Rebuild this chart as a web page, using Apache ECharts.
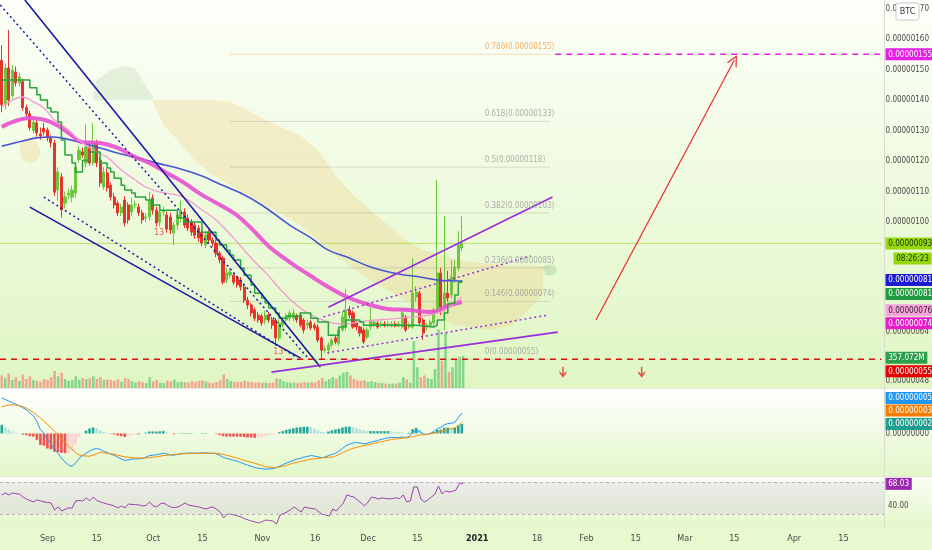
<!DOCTYPE html>
<html><head><meta charset="utf-8">
<script src="https://cdn.jsdelivr.net/npm/echarts@6/dist/echarts.min.js"></script>
<style>html,body{margin:0;padding:0;background:#fff}#c{width:932px;height:550px}</style>
</head><body><div id="c"></div><script>
// ---------- DATA (prices in satoshi = 1e-8 BTC) ----------
const firstDay = [2020, 7, 19]; const dayCount = 251;
const categories = [];
for (let d = 0; d < dayCount; d++) { const t = new Date(Date.UTC(firstDay[0], firstDay[1], firstDay[2] + d)); categories.push(t.toISOString().slice(0, 10)); }
const tickDates = ['2020-09-01','2020-09-15','2020-10-01','2020-10-15','2020-11-01','2020-11-16','2020-12-01','2020-12-15','2021-01-01','2021-01-18','2021-02-01','2021-02-15','2021-03-01','2021-03-15','2021-04-01','2021-04-15'];
const tickLabels = ['Sep','15','Oct','15','Nov','16','Dec','15','2021','18','Feb','15','Mar','15','Apr','15'];
// [open, close, low, high]
const candles = [
[153,138.5,136,158],[138.5,150.5,137,152],[150.5,140,138,163],[141.5,149.8,140.5,151.5],
[149.2,145.6,144.5,151],[145.6,147.6,144.5,149],[146,137.5,136.5,147],[137.5,135.5,134.5,138.5],
[135.5,131,130,136.5],[130,132.8,129,134],[132.5,129.2,128,133.5],[128.9,128.2,127,131],
[130.8,129.5,128.5,132.5],[130.2,127.6,126.5,131],[127.6,126,124.5,128.5],[125.9,109.8,108.5,127],
[110.5,116.4,107,118],[114.8,104,101.5,116],[106.2,108.2,104.5,110],[108.9,109.5,107.5,111],
[108.2,110.5,106.5,112],[109.5,118,108,119.5],[120.5,123.6,119.5,125],[123,122,121,124.5],
[119.4,124.6,118,132],[124.6,119.4,118.5,126],[119.4,125.9,118.5,132.5],[125.9,119.4,118,127],
[120.3,112.8,111.5,121.5],[111.5,116.4,110.5,118],[116.1,111.2,110,117.5],[112.1,108.2,107,113],
[108.2,105.6,104.5,109.5],[106.2,103,102,107],[103,104.9,102,106],[107.2,99.7,98.5,108.5],
[105.6,100.7,99.5,106.5],[103.3,105.6,102,108],[105.6,105.9,104.5,107],[104.9,103,102,106],
[103,100.7,99.5,104],[101.3,101.7,100,103],[101.7,107.2,100.5,110],[107.9,103.9,102.5,109],
[103.9,99.7,98.5,105],[100,103.3,98.5,104.5],[103.3,103.9,102,105],[102.3,97.7,96.5,103.5],
[101.7,97.4,96,103],[96.4,99,92.5,100],[99,102.3,97.5,103.5],[101.3,103.9,100,107],
[103.3,99,98,104.5],[101.3,98,97,102.5],[100,96.7,95.5,101],[99,95.7,94.5,100],
[98,94.8,93.5,99],[96.7,93.1,92,97.5],[92.5,95.7,91.5,97],[96.7,94.1,93,97.5],
[94.1,93.1,92,95],[93.1,89.8,88.5,94],[89.8,87.6,86.5,90.5],[88.2,80.3,79.5,89],
[81,83.3,80,85],[82.6,83.6,81.5,85],[82.6,80.3,79.5,83.5],[81.7,79.4,78.5,82.5],
[81,78.7,77.5,82],[78.7,74.4,73.5,79.5],[74.4,72.8,71.5,75.5],[72.8,70.2,69,73.5],
[71.2,68.5,67.5,72],[69.5,67.9,67,70.5],[69.2,66.9,66,70],[67.9,69.5,66.5,71],
[69.5,67.9,67,70.5],[67.9,66.2,65,69],[67.9,62,59.5,68.5],[62,66.9,61,68],
[66.2,67.9,65.5,69],[67.9,68.9,67,70],[68.5,70.2,67.5,71],[68.5,70.2,67.5,71.5],
[69.2,67.9,67,70],[69.5,66.2,65.5,70.5],[67.9,64.6,63.5,68.5],[66.2,66.9,65,68],
[67.2,65.3,64.5,68],[66.2,65.3,64.5,67],[65.6,61.3,60.5,66.5],[62,58,55.2,62.5],
[58,58.4,57,59.5],[58,59.7,56.7,60.5],[59.7,61.3,59,62],[62,60.7,60,63],
[60.3,64.6,59.5,65.5],[64.6,68.9,64,70.5],[65.6,71.2,64.5,78],[71.2,69.5,68.5,72.5],
[70.2,65.6,65,71],[66.9,65.6,64.5,67.5],[65.6,63.6,62.5,66],[64.6,60.7,60,65.5],
[62.3,64.6,61.5,65.5],[65.6,67.9,64.5,72],[66.2,67.2,65.5,68],[66.9,65.6,65,67.5],
[66.2,66.6,65.5,67.5],[66.6,66.2,65.5,67.5],[66.2,66.6,65.5,67.5],[65.9,66.6,65.5,67.5],
[66.6,65.9,65.5,67.5],[65.9,66.6,65.5,67.5],[65.6,70.2,65,71],[68.9,64.6,64,69.5],
[65.6,66.2,65,67],[65.6,76.7,65,88.2],[75.4,77.1,74,79],[76.7,66.9,66,77.5],
[67.9,63.6,61.3,68.5],[65.6,66.2,64.5,67],[66.2,67.2,65.5,68],[66.9,71.2,66,72],
[71.2,83.3,70.5,113.8],[83.3,72.1,69.5,85],[72.1,76.7,64.6,102],[76.7,75.1,74,84],
[76.1,82,75,87.5],[81,85.3,80,87.5],[84.9,92.5,84,97],[91.5,93.1,90.5,102]
];
// volume in millions
const volumes = [
140,110,160,90,120,80,150,100,130,90,80,70,100,90,120,
190,130,170,100,80,90,130,90,110,100,110,130,100,120,90,95,
90,80,95,70,110,100,75,60,75,65,55,120,75,90,60,55,80,75,95,65,
70,65,60,75,65,80,85,70,60,55,65,85,150,100,75,65,70,65,80,70,
65,60,65,60,60,55,60,110,100,75,65,60,60,55,60,65,60,65,60,85,
110,75,100,120,100,140,170,180,140,100,85,80,85,70,75,65,60,55,50,45,
50,50,60,120,95,60,520,230,120,140,110,100,210,650,300,610,180,230,320,350,357.072];
const macdLine = [9.0,8.6,8.2,7.8,7.4,7.0,6.5,6.0,5.2,4.5,3.0,1.0,0,-1.5,-2.5,-4.0,-5.0,-6.2,-7.2,-8.0,-8.3,-7.5,-6.3,-5.6,-5.0,-4.5,-4.0,-3.8,-4.0,-4.5,-4.8,-5.2,-5.5,-6.0,-6.4,-6.8,-6.7,-6.5,-6.4,-6.4,-6.3,-6.0,-5.6,-5.5,-5.4,-5.2,-5.0,-5.2,-5.4,-5.5,-5.3,-5.1,-5.0,-5.0,-4.9,-5.0,-5.0,-4.9,-4.9,-5.0,-5.0,-5.1,-5.5,-6.0,-6.3,-6.5,-6.8,-7.0,-7.3,-7.7,-8.0,-8.3,-8.6,-8.8,-8.9,-9.0,-9.0,-8.9,-8.7,-8.3,-7.9,-7.5,-7.2,-6.8,-6.5,-6.3,-6.0,-5.8,-5.6,-5.7,-5.9,-6.1,-6.0,-5.6,-5.3,-5.0,-4.5,-3.8,-3.1,-2.7,-2.4,-2.3,-2.4,-2.6,-2.5,-2.2,-2.0,-1.8,-1.5,-1.3,-1.1,-1.0,-1.0,-1.0,-0.9,-1.0,-0.8,0.3,0.8,0.5,-0.1,-0.3,0.0,0.5,1.2,1.5,2.2,2.5,2.6,2.8,4.0,5.2];
const signalLine = [6.8,7.0,7.2,7.25,7.2,7.0,6.8,6.4,5.9,5.3,4.6,3.9,3.1,2.3,1.5,0.6,-0.3,-1.3,-2.2,-3.1,-4.0,-4.8,-5.4,-5.6,-5.7,-5.75,-5.5,-5.1,-4.8,-4.9,-5.0,-5.1,-5.25,-5.5,-5.7,-5.9,-6.0,-6.1,-6.2,-6.2,-6.25,-6.2,-6.1,-6.0,-5.9,-5.75,-5.6,-5.5,-5.4,-5.3,-5.25,-5.2,-5.1,-5.1,-5.0,-5.0,-5.0,-5.0,-5.0,-5.0,-5.0,-5.0,-5.1,-5.3,-5.5,-5.7,-6.0,-6.2,-6.5,-6.8,-7.0,-7.3,-7.5,-7.8,-8.1,-8.4,-8.5,-8.6,-8.6,-8.5,-8.3,-8.1,-7.8,-7.5,-7.3,-7.1,-6.9,-6.7,-6.5,-6.4,-6.3,-6.2,-6.1,-6.0,-6.0,-5.7,-5.3,-4.9,-4.5,-4.1,-3.75,-3.5,-3.3,-3.1,-2.9,-2.7,-2.5,-2.3,-2.1,-1.9,-1.7,-1.5,-1.4,-1.3,-1.2,-1.1,-1.0,-0.8,-0.6,-0.4,-0.3,-0.25,-0.1,0.1,0.3,0.5,0.75,1.0,1.2,1.4,1.9,2.8];
const macdHist = [2.2,1.6,1.0,0.5,0.2,0,-0.3,-0.4,-0.7,-0.8,-1.6,-2.9,-3.1,-3.8,-4.0,-4.6,-4.7,-4.9,-5.0,-4.9,-4.3,-2.7,-0.9,0,0.7,1.25,1.5,1.3,0.8,0.4,0.2,-0.1,-0.25,-0.5,-0.7,-0.9,-0.7,-0.4,-0.2,-0.2,-0.05,0.2,0.5,0.5,0.5,0.55,0.6,0.3,0,-0.2,-0.05,0.1,0.1,0.1,0.1,0,0,0.1,0.1,0,0,-0.1,-0.4,-0.7,-0.8,-0.8,-0.8,-0.8,-0.8,-0.9,-1.0,-1.0,-1.1,-1.0,-0.8,-0.6,-0.5,-0.3,-0.1,0.3,0.6,0.9,1.1,1.3,1.5,1.6,1.7,1.7,1.6,1.2,0.8,0.4,0.3,0.5,0.8,1.0,1.2,1.5,1.7,1.75,1.6,1.3,1.0,0.8,0.6,0.6,0.6,0.6,0.6,0.6,0.6,0.5,0.4,0.35,0.3,0.1,0.2,1.1,1.4,0.9,0.2,-0.05,0.1,0.4,0.9,1.0,1.45,1.5,1.4,1.4,2.1,2.4];
const rsiLine = [54,56.5,54,56.5,55.5,55.3,51.5,49,47,45.2,47.7,46.5,45.2,44.5,43.9,35.1,38.9,33.8,36,37.6,37.6,46.5,47,46.5,50.3,46.5,51.5,47,45.2,43.9,42.5,41.4,40,37.6,40.1,37.6,42.7,42,41.8,41.4,40.1,41,45.2,40.1,39,42.7,43.9,41,38.9,38,38.9,41,43.9,41.4,40.5,39.5,38.9,37.5,36.3,38,38.9,36,32.5,24.9,30,29.5,28.7,27.5,26.2,24,22.4,21,19.8,18.6,20.5,22.4,21.8,21.1,17.3,28.7,30.5,32.5,35.5,38.9,35.5,32.5,38.9,37.5,37,36.3,33,29.5,28.7,27.5,36.3,33.8,39,43.9,54.1,52.5,51.5,47.7,44,40.1,45,51.5,50.3,49,50.3,49.5,49,49.5,50.3,49.5,54.1,45.2,46.5,64.2,64.2,49,45.2,47.7,51.5,55,65.4,55.3,59.1,57.8,58.5,60.4,69.2,68.03];
// moving averages: [day index, price]
const maBlue = [[0,124.9],[6,126.6],[10,127.6],[14,127.9],[17,127.6],[23,125.9],[28,124.3],[34,122.3],[40,120.7],[44,119.4],[51,117.4],[57,115.1],[62,112.5],[68,109.5],[74,105.6],[82,99.0],[88,94.8],[93,90.8],[99,88.2],[105,85.3],[113,83.0],[119,82.0],[124,81.0],[131,80.7]];
const maMagenta = [[0,131.2],[8,134.1],[14,132.8],[19,129.2],[23,126.2],[28,125.9],[33,124.3],[38,121.3],[42,119.4],[47,116.1],[52,112.8],[57,108.9],[66,103.0],[71,98.0],[76,92.1],[82,86.9],[88,82.3],[93,78.7],[99,75.1],[105,72.8],[110,71.5],[116,71.2],[122,70.5],[124,70.8],[127,72.5],[131,73.8]];
const maPink = [[0,137.7],[3,140.0],[6,141.0],[9,139.4],[12,137.4],[15,133.5],[19,130.2],[22,126.9],[26,123.6],[30,121.3],[34,117.1],[38,113.8],[41,111.5],[45,109.8],[51,108.5],[57,104.0],[61,100.7],[66,94.8],[71,88.2],[75,83.6],[80,77.1],[85,71.8],[90,68.5],[97,66.6],[104,67.6],[113,68.5],[123,69.8],[127,71.8],[131,75.4]];
const kijunLine = [[0,146.6],[6,146.6],[8,144.0],[10,141.7],[11,140.0],[13,137.4],[14,136.1],[16,132.8],[17,126.9],[18,122.0],[20,119.4],[21,116.4],[23,120.3],[25,123.0],[28,119.4],[30,117.7],[31,116.4],[32,114.4],[34,112.1],[35,110.5],[37,109.5],[38,108.2],[41,107.2],[43,105.6],[45,103.9],[50,101.3],[52,100.0],[57,96.7],[61,94.1],[62,92.5],[64,90.8],[65,89.2],[66,87.6],[68,84.9],[69,82.6],[71,79.4],[72,76.7],[74,75.1],[75,73.5],[76,71.8],[78,70.2],[79,68.5],[81,69.2],[85,70.2],[88,68.5],[90,67.2],[93,62.9],[96,65.6],[98,67.9],[102,67.2],[103,66.2],[118,65.6],[123,66.2],[124,67.9],[126,70.2],[127,73.3],[129,76.1],[130,80.3],[131,81.0]];
// ichimoku cloud segments: [day index, upper, lower]
const cloudBear1 = [[5,124.5,123.5],[6,126.9,120.3],[8,127.6,119.4],[10,126.2,120.3],[11,123.6,122.0]];
const cloudBull1 = [[26,141.7,140.0],[27,146.6,140.0],[31,149.8,140.0],[35,151.2,140.0],[38,150.5,140.0],[40,146.6,140.0],[43,141.3,140.0]];
const cloudBear2 = [[43,140.0,139.4],[46,140.0,131.8],[50,140.0,126.9],[55,140.0,120.3],[60,140.0,115.4],[65,139.4,112.1],[70,136.7,108.9],[75,133.5,105.6],[80,130.8,102.3],[85,128.5,99.0],[90,123.6,94.1],[95,115.4,89.2],[100,108.9,84.9],[105,103.9,81.0],[110,99.0,77.7],[115,94.1,74.4],[120,90.8,71.2],[125,89.2,67.9],[130,87.6,66.2],[135,86.9,65.3],[140,86.2,64.6],[145,85.9,66.2],[150,85.9,71.2],[154,85.6,76.1]];
const cloudBull2 = [[154,85.2,84.6],[155,85.9,82.6],[157,85.9,82.6],[158,84.9,83.6]];
// fibonacci retracement
const fibRatios = ['0.786','0.618','0.5','0.382','0.236','0.146','0'];
const fibPrices = [155,133,118,103,85,74,55];
const fibSpan = [65,156]; const fibLabelAt = 137.5;
// drawings: [[x0,p0],[x1,p1]] in day index / price
const blueSolidLines = [[[6.58,172.8],[90.7,52.5]],[[8.0,104.9],[85.1,55.4]]];
const blueDottedLines = [[[-0.43,171.2],[87.0,55.7]],[[11.96,108.2],[83.9,55.7]]];
const purpleSolidLines = [[[93.0,72.1],[156.8,108.2]],[[76.8,50.8],[158.3,63.9]]];
const purpleDottedLines = [[[91.6,68.9],[150.6,88.9]],[[92.7,57.1],[155.5,69.5]]];
const targetArrow = [[169.2,67.9],[208.6,153.1]];
const downArrows = [[159.8,50.8],[182.2,50.8]];
const tdCounts = [[44.8,96.4,'13'],[78.8,57.4,'13']];
const supportLevel = 55, targetLevel = 155, targetFrom = 157.6, lastPrice = 93;
const priceTicks = [170,160,150,140,130,120,110,100,64,48];
const mainBadges = [
  {v:155, text:'0.00000155', bg:'#e61ee6', fg:'#fff', dy:0},
  {v:93, text:'0.00000093', bg:'#96d80c', fg:'#1b3300', dy:0},
  {v:93, text:'08:26:23', bg:'#96d80c', fg:'#1b3300', dy:15, dx:8},
  {v:81, text:'0.00000081', bg:'#1b1bd4', fg:'#fff', dy:0},
  {v:81, text:'0.00000081', bg:'#1f9a3e', fg:'#fff', dy:14},
  {v:76, text:'0.00000076', bg:'#f6a6dc', fg:'#3a2030', dy:15},
  {v:74, text:'0.00000074', bg:'#e41ec8', fg:'#fff', dy:22},
  {v:55, text:'0.00000055', bg:'#e50000', fg:'#fff', dy:12}
];
const volBadge = {v:357.072, text:'357.072M', bg:'#2b9e4c', fg:'#fff', dy:2};
const macdBadges = [
  {v:5.2, text:'0.00000005', bg:'#2196f3', fg:'#fff', dy:-15},
  {v:2.8, text:'0.00000003', bg:'#f57c00', fg:'#fff', dy:-12},
  {v:2.4, text:'0.00000002', bg:'#1f9e8e', fg:'#fff', dy:0}
];
const rsiBadge = {v:68.03, text:'68.03', bg:'#9c27b0', fg:'#fff', dy:0};

// ---------- CHART ----------
const FONT = '"Liberation Sans Narrow","DejaVu Sans Condensed","Liberation Sans",sans-serif';
const fmt = v => (v / 1e8).toFixed(8);
const tickMap = new Map(tickDates.map((d, i) => [d, tickLabels[i]]));
const chart = echarts.init(document.getElementById('c'), null, {renderer: 'canvas'});
const lin = (a, b) => new echarts.graphic.LinearGradient(0, 0, 0, 1, [{offset:0,color:a},{offset:1,color:b}]);
const GL = -2, GR = 48;
const hiddenCat = g => ({type:'category', gridIndex:g, data:categories, show:false, boundaryGap:true});
const lineSeg = (seg, color, type, width) => ({type:'line', xAxisIndex:1, yAxisIndex:0, data:seg, showSymbol:false, silent:true, z:5,
  lineStyle:{color, type, width}});

const series = [];
// cloud
series.push({type:'custom', xAxisIndex:1, yAxisIndex:0, data:[[0,100]], silent:true, z:1, clip:true,
  renderItem:(params, api) => {
    const segs = [[cloudBear1,'rgba(246,176,70,0.19)'],[cloudBull1,'rgba(120,165,110,0.15)'],[cloudBear2,'rgba(246,176,70,0.19)'],[cloudBull2,'rgba(100,170,90,0.22)']];
    return {type:'group', children: segs.map(([s, c]) => {
      const pts = s.map(p => api.coord([p[0], p[1]])).concat(s.slice().reverse().map(p => api.coord([p[0], p[2]])));
      return {type:'polygon', shape:{points:pts}, style:{fill:c}};
    })};
  }});
// fib lines
fibPrices.forEach((p, k) => {
  series.push({type:'line', xAxisIndex:1, yAxisIndex:0, data:[[fibSpan[0],p],[fibSpan[1],p]], showSymbol:false, silent:true, z:1,
    lineStyle:{color: k === 0 ? 'rgba(240,150,60,0.35)' : 'rgba(140,140,140,0.28)', width:1}});
});
series.push({type:'scatter', xAxisIndex:1, yAxisIndex:0, symbolSize:0, silent:true, z:6,
  data: fibPrices.map((p, k) => ({value:[fibLabelAt, p], label:{color: k === 0 ? '#f39a45' : '#9a9a9a'}, name: fibRatios[k] + '(' + fmt(p) + ')'})),
  label:{show:true, position:'right', distance:0, offset:[0,-7], fontSize:8, fontFamily:FONT, formatter: p => p.name}});
// support / target / last price lines
series.push({type:'line', xAxisIndex:1, yAxisIndex:0, data:[[-0.5,lastPrice],[250.5,lastPrice]], showSymbol:false, silent:true, z:1, lineStyle:{color:'rgba(150,210,20,0.55)', width:1}});
series.push({type:'line', xAxisIndex:1, yAxisIndex:0, data:[[-0.5,supportLevel],[250.5,supportLevel]], showSymbol:false, silent:true, z:6, lineStyle:{color:'#e01010', width:1.5, type:[6,5]}});
series.push({type:'line', xAxisIndex:1, yAxisIndex:0, data:[[targetFrom,targetLevel],[250.5,targetLevel]], showSymbol:false, silent:true, z:6, lineStyle:{color:'#e81ee8', width:1.5, type:[6,5]}});
// candles
series.push({type:'candlestick', xAxisIndex:0, yAxisIndex:0, data:candles, barWidth:2.6, z:3,
  itemStyle:{color:'#6cc63e', color0:'#e5342c', borderColor:'#6cc63e', borderColor0:'#e5342c', borderWidth:1}});
// moving averages
series.push({type:'line', xAxisIndex:1, yAxisIndex:0, data:maBlue, smooth:0.4, showSymbol:false, silent:true, z:4, lineStyle:{color:'#4655d4', width:1.6}});
series.push({type:'line', xAxisIndex:1, yAxisIndex:0, data:maMagenta, smooth:0.4, showSymbol:false, silent:true, z:4, lineStyle:{color:'#e84fd0', width:4, opacity:0.9}});
series.push({type:'line', xAxisIndex:1, yAxisIndex:0, data:maPink, smooth:0.4, showSymbol:false, silent:true, z:4, lineStyle:{color:'#f29bcf', width:1.3}});
series.push({type:'line', xAxisIndex:1, yAxisIndex:0, data:kijunLine, step:'end', showSymbol:false, silent:true, z:4, lineStyle:{color:'#27a53a', width:1.5}});
// trend lines
blueSolidLines.forEach(s => series.push(lineSeg(s, '#1818a8', 'solid', 1.6)));
blueDottedLines.forEach(s => series.push(lineSeg(s, '#1818a8', [2,3], 1.5)));
purpleSolidLines.forEach(s => series.push(lineSeg(s, '#9a2cdc', 'solid', 1.7)));
purpleDottedLines.forEach(s => series.push(lineSeg(s, '#9a2cdc', [2,3], 1.5)));
// arrow & markers
series.push({type:'line', xAxisIndex:1, yAxisIndex:0, data:[], silent:true, z:6,
  markLine:{silent:true, symbol:['none','path://M0,10 L5,0 L10,10 L8.8,10 L5,2.4 L1.2,10 Z'], symbolSize:[11,11],
    label:{show:false}, lineStyle:{color:'#ee2a2a', width:1.2, type:'solid'},
    data:[[{coord:targetArrow[0]},{coord:targetArrow[1]}]]}});
series.push({type:'scatter', xAxisIndex:1, yAxisIndex:0, data:downArrows, silent:true, z:6,
  symbol:'path://M4,0 L6,0 L6,8 L10,5 L10,7 L5,12 L0,7 L0,5 L4,8 Z', symbolSize:[7,11], itemStyle:{color:'#e52222'}});
series.push({type:'scatter', xAxisIndex:1, yAxisIndex:0, data:tdCounts, symbolSize:0, silent:true, z:6,
  label:{show:true, position:'inside', formatter:p => p.value[2], color:'#e53935', fontSize:9, fontFamily:FONT}});
// volume
series.push({type:'bar', xAxisIndex:2, yAxisIndex:1, data:volumes, barWidth:2.6, silent:true, z:2,
  itemStyle:{color: p => candles[p.dataIndex][1] >= candles[p.dataIndex][0] ? '#86d689' : '#f2a68e'}});
// MACD
series.push({type:'bar', xAxisIndex:3, yAxisIndex:2, data:macdHist, barWidth:2.6, silent:true,
  itemStyle:{color: p => { const v = macdHist[p.dataIndex], pv = p.dataIndex > 0 ? macdHist[p.dataIndex-1] : v;
    return v >= 0 ? (v >= pv ? '#26a69a' : '#b2dfdb') : (v <= pv ? '#ef5350' : '#ffcdd2'); }}});
series.push({type:'line', xAxisIndex:3, yAxisIndex:2, data:macdLine, showSymbol:false, silent:true, lineStyle:{color:'#2196f3', width:1}});
series.push({type:'line', xAxisIndex:3, yAxisIndex:2, data:signalLine, showSymbol:false, silent:true, lineStyle:{color:'#fb8c00', width:1}});
// RSI
series.push({type:'line', xAxisIndex:4, yAxisIndex:3, data:rsiLine, showSymbol:false, silent:true, lineStyle:{color:'#9c40b4', width:1},
  markArea:{silent:true, itemStyle:{color:'rgba(150,110,190,0.12)'}, data:[[{yAxis:70},{yAxis:30}]]},
  markLine:{silent:true, symbol:'none', label:{show:false}, lineStyle:{color:'#bba8c9', type:[3,3], width:1}, data:[{yAxis:70},{yAxis:30}]}});

const axLbl = {color:'#4a4a4a', fontSize:8, fontFamily:FONT, margin:4};
const bgGraphics = [
  {type:'rect', shape:{x:0,y:0,width:932,height:389}, style:{fill:lin('#fdfff9','#dff6c3')}, z:-10, silent:true},
  {type:'rect', shape:{x:0,y:389,width:932,height:88}, style:{fill:lin('#ffffff','#e2f7c8')}, z:-10, silent:true},
  {type:'rect', shape:{x:0,y:477,width:932,height:51}, style:{fill:lin('#fbfef4','#e4f8cb')}, z:-10, silent:true},
  {type:'rect', shape:{x:0,y:528,width:932,height:22}, style:{fill:'#e6f9cf'}, z:-10, silent:true},
  {type:'line', shape:{x1:0,y1:388.5,x2:932,y2:388.5}, style:{stroke:'#e3e6df', lineWidth:1}, z:-9, silent:true},
  {type:'line', shape:{x1:0,y1:476.5,x2:932,y2:476.5}, style:{stroke:'#e3e6df', lineWidth:1}, z:-9, silent:true},
  {type:'line', shape:{x1:884.5,y1:0,x2:884.5,y2:528}, style:{stroke:'#d8ddd0', lineWidth:1}, z:-9, silent:true}
];

chart.setOption({
  animation:false,
  grid:[
    {left:GL, right:GR, top:0, height:388},
    {left:GL, right:GR, top:325, height:63},
    {left:GL, right:GR, top:389, height:87},
    {left:GL, right:GR, top:477, height:51}
  ],
  xAxis:[
    hiddenCat(0),
    {type:'value', gridIndex:0, min:-0.5, max:250.5, show:false},
    hiddenCat(1), hiddenCat(2),
    {type:'category', gridIndex:3, data:categories, boundaryGap:true, axisLine:{show:false}, axisTick:{show:false},
      axisLabel:{color:'#4a4a4a', fontSize:9, fontFamily:FONT, margin:6, interval:(i, v) => tickMap.has(v),
        formatter: v => tickMap.get(v) === '2021' ? '{b|2021}' : tickMap.get(v), rich:{b:{fontWeight:'bold', color:'#222', fontSize:9, fontFamily:FONT}}}}
  ],
  yAxis:[
    {type:'value', gridIndex:0, position:'right', min:45.6, max:172.8, splitLine:{show:false}, axisLine:{show:false}, axisTick:{show:false},
      axisLabel:Object.assign({customValues:priceTicks, formatter:fmt}, axLbl)},
    {type:'value', gridIndex:1, min:0, max:700, show:false},
    {type:'value', gridIndex:2, position:'right', min:-10.75, max:11.25, splitLine:{show:false}, axisLine:{show:false}, axisTick:{show:false},
      axisLabel:Object.assign({customValues:[0], formatter:fmt}, axLbl)},
    {type:'value', gridIndex:3, position:'right', min:12.3, max:76.7, splitLine:{show:false}, axisLine:{show:false}, axisTick:{show:false},
      axisLabel:Object.assign({customValues:[40], formatter: v => v.toFixed(2)}, axLbl)}
  ],
  graphic: bgGraphics,
  series
});

// price-scale badges anchored to axis values
function badge(b, yAxisIndex) {
  const y = chart.convertToPixel({yAxisIndex}, b.v) + (b.dy || 0);
  return {type:'text', x:885.5 + (b.dx || 0), y, z:100, silent:true, scaleX:0.9, originX:0,
    style:{text:b.text, fill:b.fg, backgroundColor:b.bg, padding:[2,3,1,3], fontSize:9, fontFamily:FONT, verticalAlign:'middle'}};
}
const g = bgGraphics.slice();
mainBadges.forEach(b => g.push(badge(b, 0)));
g.push(badge(volBadge, 1));
macdBadges.forEach(b => g.push(badge(b, 2)));
g.push(badge(rsiBadge, 3));
g.push({type:'rect', shape:{x:896, y:3, width:23, height:17, r:2}, style:{fill:'#fff', stroke:'#c8c8c8', lineWidth:1}, z:100, silent:true});
g.push({type:'text', x:907.5, y:11.5, z:101, silent:true, style:{text:'BTC', fill:'#333', fontSize:9, fontFamily:FONT, align:'center', verticalAlign:'middle'}});
chart.setOption({graphic: g}, {replaceMerge:['graphic']});
</script></body></html>
